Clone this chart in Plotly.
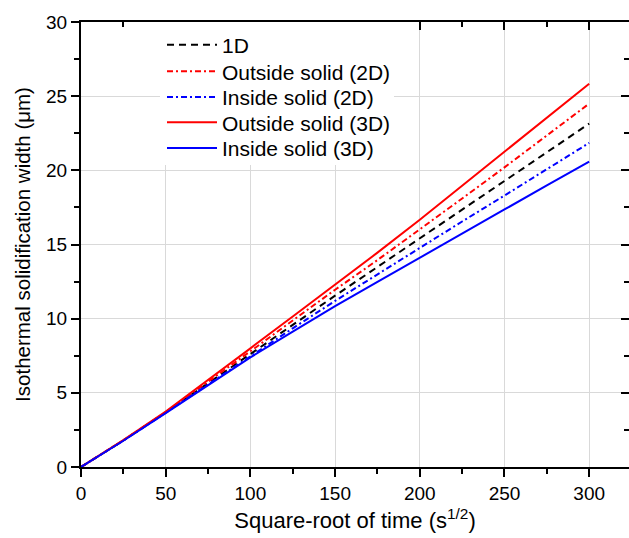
import plotly.graph_objects as go

# square-root of time (s^1/2)
x_sqrt_t = [0, 25, 50, 75, 100, 125, 150, 175, 200, 225, 250, 275, 300]

# isothermal solidification width (um)
w_1d = [0, 1.79, 3.68, 5.63, 7.62, 9.58, 11.55, 13.48, 15.40, 17.35, 19.28, 21.22, 23.15]
w_out_2d = [0, 1.80, 3.70, 5.72, 7.80, 9.88, 11.95, 13.95, 16.00, 18.10, 20.20, 22.35, 24.50]
w_in_2d = [0, 1.78, 3.66, 5.56, 7.48, 9.35, 11.20, 13.00, 14.80, 16.55, 18.30, 20.05, 21.85]
w_out_3d = [0, 1.81, 3.74, 5.84, 8.00, 10.15, 12.30, 14.45, 16.67, 18.95, 21.25, 23.55, 25.84]
w_in_3d = [0, 1.77, 3.63, 5.50, 7.39, 9.12, 10.84, 12.48, 14.12, 15.74, 17.36, 18.98, 20.59]

names = ["1D", "Outside solid (2D)", "Inside solid (2D)", "Outside solid (3D)", "Inside solid (3D)"]
values = [w_1d, w_out_2d, w_in_2d, w_out_3d, w_in_3d]
colors = ["#000000", "#ff0000", "#0000ff", "#ff0000", "#0000ff"]
dashes = ["7px,5px", "6px,3px,2px,3px", "6px,3px,2px,3px", "solid", "solid"]

x_ticks = [0, 50, 100, 150, 200, 250, 300]
y_ticks = [0, 5, 10, 15, 20, 25, 30]

FONT = "Liberation Sans, Arial, sans-serif"
GRID = "#d9d9d9"

# layout geometry (pixels)
W, H = 629, 538
ML, MR, MT, MB = 81, 0, 22, 71
PW = W - ML - MR
PH = H - MT - MB
legend_rows_px = [45, 71.7, 97.3, 122.7, 148.3]
legend_left_px = 162

fig = go.Figure()

# white backing box behind the legend (hides gridlines like the original)
mask_name = "<br>".join(["\u00a0" * 34] * 5)
fig.add_trace(go.Scatter(x=[None], y=[None], mode="lines", name=mask_name,
                         legend="legend", hoverinfo="skip",
                         line=dict(color="rgba(0,0,0,0)", width=0)))

legend_ids = ["legend2", "legend3", "legend4", "legend5", "legend6"]
for n, v, c, d, lid in zip(names, values, colors, dashes, legend_ids):
    fig.add_trace(go.Scatter(x=x_sqrt_t, y=v, mode="lines", name=n, legend=lid,
                             line=dict(color=c, width=2, dash=d)))
# helper trace to show secondary (top/right) tick axes
fig.add_trace(go.Scatter(x=[None], y=[None], xaxis="x2", yaxis="y2",
                         showlegend=False, hoverinfo="skip"))

XR = [0, 323.5]
YR = [0, 30]

common = dict(showgrid=False, zeroline=False, tickcolor="black", tickwidth=1.5)

legend_layouts = {
    "legend": dict(x=(160 - ML) / PW, y=1, xanchor="left", yanchor="top",
                   bgcolor="white", borderwidth=0, itemclick=False,
                   font=dict(family=FONT, size=20, color="black"),
                   itemwidth=30)
}
for lid, ypx in zip(legend_ids, legend_rows_px):
    legend_layouts[lid] = dict(
        x=(legend_left_px - ML) / PW, y=1 - (ypx - MT) / PH,
        xanchor="left", yanchor="middle",
        bgcolor="rgba(255,255,255,0)", borderwidth=0,
        font=dict(family=FONT, size=21, color="black"),
        itemwidth=50)

fig.update_layout(
    width=W, height=H,
    margin=dict(l=ML, r=MR, t=MT, b=MB),
    paper_bgcolor="white", plot_bgcolor="white",
    font=dict(family=FONT, color="black", size=19),
    showlegend=True,
    **legend_layouts,
    xaxis=dict(range=XR, tickvals=x_ticks, ticks="outside", ticklen=8,
               tickwidth=1.5, tickcolor="black",
               showline=True, linewidth=2, linecolor="black", mirror=True,
               showgrid=True, gridcolor=GRID, gridwidth=1, zeroline=False,
               minor=dict(ticks="outside", ticklen=5, dtick=25, tick0=0,
                          showgrid=False, tickcolor="black", tickwidth=1.5),
               tickfont=dict(size=19),
               title=dict(text="Square-root of time (s<sup>1/2</sup>)",
                          font=dict(size=22), standoff=10)),
    yaxis=dict(range=YR, tickvals=y_ticks, ticks="outside", ticklen=8,
               tickwidth=1.5, tickcolor="black",
               showline=True, linewidth=2, linecolor="black", mirror=False,
               showgrid=True, gridcolor=GRID, gridwidth=1, zeroline=False,
               minor=dict(ticks="outside", ticklen=5, dtick=2.5, tick0=0,
                          showgrid=False, tickcolor="black", tickwidth=1.5),
               tickfont=dict(size=19),
               title=dict(text="Isothermal solidification width (μm)",
                          font=dict(size=20.5), standoff=10)),
    xaxis2=dict(overlaying="x", side="top", anchor="y", range=XR, tickvals=x_ticks,
                ticks="inside", ticklen=8, showticklabels=False, showline=False,
                minor=dict(ticks="inside", ticklen=5, dtick=25, tick0=0,
                           showgrid=False, tickcolor="black", tickwidth=1.5),
                **common),
    yaxis2=dict(overlaying="y", side="right", anchor="x", range=YR, tickvals=y_ticks,
                ticks="inside", ticklen=8, showticklabels=False, showline=False,
                minor=dict(ticks="inside", ticklen=5, dtick=2.5, tick0=0,
                           showgrid=False, tickcolor="black", tickwidth=1.5),
                **common),
)

fig.write_html("out.html")
